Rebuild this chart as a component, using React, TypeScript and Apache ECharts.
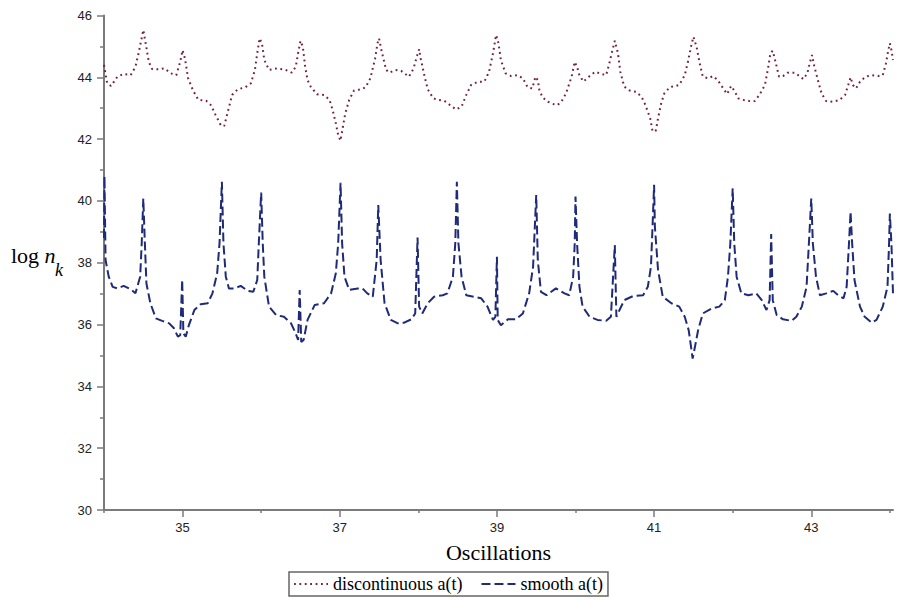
import React, { useEffect, useRef } from "react";
import * as echarts from "echarts";

const xMajorTicks = [35, 37, 39, 41, 43];
const xMinorTicks = [34, 36, 38, 40, 42, 44];
const seriesNames = ["discontinuous a(t)", "smooth a(t)"];

const discontinuous: [number, number][] = [
  [34.0, 44.4], [34.04, 43.81], [34.09, 43.72], [34.17, 44.02], [34.25, 44.11], [34.34, 44.07],
  [34.4, 44.34], [34.44, 44.78], [34.5, 45.53], [34.53, 45.1], [34.57, 44.5], [34.61, 44.27],
  [34.7, 44.26], [34.77, 44.29], [34.85, 44.13], [34.92, 44.07], [34.97, 44.5], [35.0, 44.88],
  [35.03, 44.61], [35.07, 43.97], [35.13, 43.59], [35.2, 43.27], [35.3, 43.24], [35.36, 43.1],
  [35.42, 42.78], [35.49, 42.43], [35.53, 42.43], [35.57, 42.83], [35.63, 43.43], [35.7, 43.61],
  [35.8, 43.68], [35.87, 43.81], [35.92, 44.24], [35.95, 44.78], [35.98, 45.26], [36.01, 45.1],
  [36.04, 44.56], [36.1, 44.24], [36.2, 44.29], [36.31, 44.24], [36.39, 44.15], [36.44, 44.34],
  [36.47, 44.78], [36.5, 45.18], [36.53, 44.99], [36.56, 44.34], [36.59, 43.91], [36.63, 43.7],
  [36.71, 43.45], [36.8, 43.43], [36.87, 43.27], [36.91, 42.94], [36.95, 42.51], [36.98, 42.13],
  [37.01, 41.95], [37.04, 42.4], [37.07, 42.83], [37.12, 43.27], [37.18, 43.57], [37.27, 43.61],
  [37.33, 43.68], [37.39, 43.97], [37.45, 44.61], [37.48, 45.1], [37.5, 45.26], [37.53, 44.88],
  [37.59, 44.24], [37.63, 44.15], [37.71, 44.24], [37.78, 44.21], [37.88, 44.02], [37.94, 44.29],
  [37.98, 44.67], [38.01, 44.91], [38.03, 44.61], [38.08, 44.02], [38.12, 43.61], [38.19, 43.32],
  [38.25, 43.27], [38.33, 43.24], [38.42, 43.07], [38.48, 42.96], [38.55, 43.05], [38.61, 43.43],
  [38.67, 43.75], [38.76, 43.86], [38.84, 43.86], [38.9, 44.18], [38.95, 44.78], [38.99, 45.37],
  [39.02, 45.1], [39.05, 44.56], [39.11, 44.13], [39.18, 44.04], [39.26, 44.07], [39.33, 43.97],
  [39.39, 43.68], [39.45, 43.64], [39.49, 44.02], [39.52, 43.91], [39.54, 43.59], [39.58, 43.35],
  [39.65, 43.21], [39.71, 43.14], [39.77, 43.1], [39.82, 43.21], [39.88, 43.48], [39.95, 44.02],
  [39.99, 44.5], [40.02, 44.34], [40.05, 44.07], [40.1, 43.86], [40.16, 44.0], [40.25, 44.18],
  [40.33, 44.11], [40.39, 44.07], [40.43, 44.45], [40.47, 44.88], [40.5, 45.18], [40.54, 44.78],
  [40.57, 44.18], [40.62, 43.7], [40.69, 43.57], [40.77, 43.53], [40.84, 43.37], [40.88, 43.16],
  [40.92, 42.89], [40.95, 42.67], [40.98, 42.26], [41.02, 42.26], [41.05, 42.67], [41.09, 43.16],
  [41.13, 43.48], [41.2, 43.68], [41.32, 43.75], [41.39, 44.07], [41.43, 44.5], [41.47, 44.99],
  [41.5, 45.31], [41.54, 44.99], [41.58, 44.45], [41.62, 44.02], [41.69, 43.97], [41.75, 44.04],
  [41.81, 43.91], [41.88, 43.64], [41.93, 43.46], [41.98, 43.72], [42.03, 43.53], [42.07, 43.32],
  [42.13, 43.27], [42.22, 43.23], [42.28, 43.23], [42.34, 43.43], [42.41, 43.75], [42.45, 44.29],
  [42.48, 44.78], [42.51, 44.86], [42.55, 44.45], [42.59, 44.02], [42.64, 44.04], [42.7, 44.15],
  [42.79, 44.15], [42.85, 44.04], [42.9, 43.94], [42.95, 44.13], [42.98, 44.45], [43.01, 44.72],
  [43.04, 44.34], [43.09, 43.86], [43.13, 43.48], [43.19, 43.23], [43.28, 43.21], [43.36, 43.27],
  [43.43, 43.43], [43.47, 43.75], [43.5, 44.0], [43.53, 43.75], [43.57, 43.64], [43.62, 43.86],
  [43.69, 44.02], [43.77, 44.07], [43.85, 44.04], [43.91, 44.07], [43.95, 44.45], [43.98, 44.88],
  [44.0, 45.1], [44.02, 44.88], [44.04, 44.56],
];

const smooth: [number, number][] = [
  [34.0, 38.8], [34.006, 40.8], [34.02, 38.09], [34.06, 37.55], [34.11, 37.22], [34.17, 37.17],
  [34.25, 37.25], [34.34, 37.14], [34.4, 37.01], [34.46, 37.55], [34.48, 38.63], [34.5, 40.08],
  [34.52, 38.63], [34.54, 37.33], [34.59, 36.69], [34.66, 36.2], [34.74, 36.12], [34.83, 36.04],
  [34.89, 35.88], [34.94, 35.61], [34.97, 35.66], [34.995, 37.45], [35.01, 35.71], [35.04, 35.61],
  [35.08, 35.98], [35.15, 36.47], [35.23, 36.66], [35.32, 36.69], [35.38, 37.01], [35.44, 37.66],
  [35.47, 38.63], [35.5, 40.62], [35.52, 38.63], [35.55, 37.55], [35.59, 37.17], [35.66, 37.17],
  [35.74, 37.25], [35.83, 37.09], [35.9, 37.06], [35.95, 37.44], [35.97, 38.63], [36.0, 40.27],
  [36.02, 38.63], [36.04, 37.55], [36.1, 36.58], [36.19, 36.31], [36.29, 36.25], [36.38, 36.04],
  [36.44, 35.71], [36.47, 35.5], [36.49, 37.12], [36.51, 35.44], [36.54, 35.5], [36.59, 36.15],
  [36.68, 36.63], [36.8, 36.69], [36.89, 37.01], [36.95, 37.66], [36.98, 38.63], [37.01, 40.59],
  [37.03, 38.63], [37.06, 37.55], [37.12, 37.12], [37.23, 37.17], [37.29, 37.17], [37.35, 37.01],
  [37.42, 36.9], [37.47, 38.09], [37.49, 39.87], [37.52, 38.09], [37.57, 36.69], [37.65, 36.15],
  [37.74, 36.04], [37.82, 36.06], [37.91, 36.17], [37.96, 36.36], [37.99, 38.82], [38.01, 36.58],
  [38.05, 36.36], [38.12, 36.69], [38.2, 36.9], [38.31, 36.95], [38.37, 37.01], [38.44, 37.55],
  [38.47, 38.63], [38.49, 40.62], [38.51, 38.63], [38.55, 37.55], [38.61, 36.95], [38.71, 36.9],
  [38.8, 36.85], [38.88, 36.58], [38.95, 36.15], [38.98, 36.25], [39.0, 38.19], [39.01, 36.15],
  [39.05, 35.98], [39.14, 36.17], [39.24, 36.17], [39.33, 36.36], [39.41, 37.01], [39.46, 37.87],
  [39.5, 40.19], [39.52, 38.09], [39.56, 37.06], [39.63, 36.95], [39.75, 37.17], [39.86, 37.01],
  [39.92, 36.95], [39.97, 37.55], [39.99, 38.63], [40.0, 40.14], [40.02, 38.63], [40.05, 37.22],
  [40.09, 36.58], [40.18, 36.25], [40.28, 36.15], [40.39, 36.12], [40.45, 36.25], [40.5, 38.57],
  [40.52, 36.25], [40.56, 36.47], [40.62, 36.79], [40.73, 36.92], [40.86, 36.95], [40.92, 37.22],
  [40.96, 37.87], [40.98, 39.17], [41.0, 40.52], [41.01, 39.17], [41.05, 37.77], [41.11, 36.9],
  [41.22, 36.69], [41.32, 36.58], [41.39, 36.25], [41.44, 35.82], [41.47, 35.28], [41.49, 34.9],
  [41.52, 35.28], [41.56, 35.82], [41.62, 36.36], [41.73, 36.52], [41.83, 36.58], [41.9, 36.79],
  [41.94, 37.55], [41.97, 38.63], [42.0, 40.41], [42.02, 38.63], [42.05, 37.55], [42.11, 37.01],
  [42.2, 36.95], [42.3, 37.01], [42.37, 36.79], [42.43, 36.47], [42.47, 36.79], [42.49, 38.93],
  [42.51, 36.79], [42.56, 36.31], [42.64, 36.17], [42.75, 36.12], [42.81, 36.25], [42.88, 36.58],
  [42.94, 37.22], [42.97, 38.63], [43.0, 40.08], [43.02, 38.63], [43.06, 37.55], [43.11, 36.95],
  [43.19, 37.01], [43.28, 37.09], [43.34, 36.95], [43.41, 36.85], [43.45, 37.22], [43.48, 38.63],
  [43.5, 39.65], [43.52, 38.63], [43.55, 37.44], [43.62, 36.58], [43.68, 36.25], [43.77, 36.06],
  [43.83, 36.15], [43.91, 36.58], [43.97, 37.22], [43.99, 38.63], [44.0, 39.59], [44.02, 38.63],
  [44.04, 37.0],
];

const AXIS = "#7a7a7a";
const DISC_COLOR = "#74203e";
const SMOOTH_COLOR = "#1f2a78";

export default function App() {
  const ref = useRef<HTMLDivElement>(null);
  useEffect(() => {
    if (!ref.current) return;
    const chart = echarts.init(ref.current, undefined, { renderer: "svg" });
    chart.setOption({
      animation: false,
      backgroundColor: "#ffffff",
      grid: { left: 104, right: 7, top: 15.5, bottom: 90, containLabel: false },
      xAxis: [
        {
          type: "value",
          min: 34,
          max: 44.04,
          splitLine: { show: false },
          axisLine: { show: true, lineStyle: { color: AXIS, width: 2 } },
          axisTick: { show: true, length: 7, customValues: xMajorTicks, lineStyle: { color: AXIS, width: 1.5 } },
          axisLabel: {
            customValues: xMajorTicks,
            margin: 11,
            fontFamily: "Liberation Sans",
            fontSize: 13,
            color: "#222",
          },
          name: "Oscillations",
          nameLocation: "middle",
          nameGap: 31,
          nameTextStyle: { fontFamily: "Liberation Serif", fontSize: 22, color: "#000" },
        },
        {
          type: "value",
          min: 34,
          max: 44.04,
          position: "bottom",
          splitLine: { show: false },
          axisLine: { show: false },
          axisTick: { show: true, length: 3, customValues: xMinorTicks, lineStyle: { color: AXIS, width: 1.5 } },
          axisLabel: { show: false },
        },
      ],
      yAxis: {
        type: "value",
        min: 30,
        max: 46,
        interval: 2,
        splitLine: { show: false },
        axisLine: { show: true, lineStyle: { color: AXIS, width: 2 } },
        axisTick: { show: true, length: 7, lineStyle: { color: AXIS, width: 1.5 } },
        minorTick: { show: true, splitNumber: 2, length: 4, lineStyle: { color: AXIS, width: 1.5 } },
        minorSplitLine: { show: false },
        axisLabel: { margin: 12, fontFamily: "Liberation Sans", fontSize: 13, color: "#222" },
      },
      legend: {
        data: seriesNames,
        left: 289,
        top: 572,
        orient: "horizontal",
        padding: [3, 5, 3, 4],
        itemWidth: 34,
        itemHeight: 14,
        itemGap: 18,
        itemStyle: { opacity: 0 },
        borderColor: "#666",
        borderWidth: 1.5,
        textStyle: { fontFamily: "Liberation Serif", fontSize: 18, color: "#000" },
      },
      graphic: [
        {
          type: "text",
          left: 11,
          top: 244,
          style: {
            text: "{a|log }{b|n}",
            rich: {
              a: { fontFamily: "Liberation Serif", fontSize: 22, fill: "#000" },
              b: { fontFamily: "Liberation Serif", fontStyle: "italic", fontSize: 22, fill: "#000" },
            },
          },
        },
        {
          type: "text",
          left: 55,
          top: 261,
          style: { text: "k", fontFamily: "Liberation Serif", fontStyle: "italic", fontSize: 18, fill: "#000" },
        },
      ],
      series: [
        {
          name: seriesNames[0],
          type: "line",
          data: discontinuous,
          symbol: "none",
          showSymbol: false,
          lineStyle: { color: DISC_COLOR, width: 2, type: [1.8, 3.6] },
          itemStyle: { color: DISC_COLOR },
        },
        {
          name: seriesNames[1],
          type: "line",
          data: smooth,
          symbol: "none",
          showSymbol: false,
          lineStyle: { color: SMOOTH_COLOR, width: 2, type: [9, 4] },
          itemStyle: { color: SMOOTH_COLOR },
        },
      ],
    });
    return () => chart.dispose();
  }, []);
  return (
    <div
      ref={ref}
      style={{ position: "fixed", left: 0, top: 0, width: 900, height: 600, background: "#fff" }}
    />
  );
}
